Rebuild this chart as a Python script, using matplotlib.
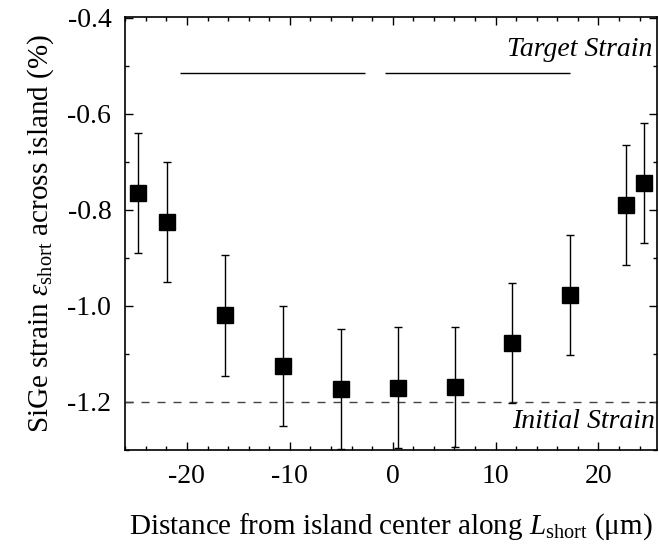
import matplotlib
matplotlib.use("Agg")
import matplotlib.pyplot as plt
from matplotlib.ticker import MultipleLocator

# Measured strain across the island
distance_um = [-24.8, -21.9, -16.3, -10.7, -5.0, 0.5, 6.1, 11.6, 17.2, 22.7, 24.4]
strain_pct = [-0.765, -0.825, -1.020, -1.125, -1.173, -1.170, -1.169, -1.077, -0.977, -0.790, -0.744]
strain_err = [0.125, 0.125, 0.125, 0.125, 0.125, 0.125, 0.125, 0.125, 0.125, 0.125, 0.125]

target_strain = -0.515
initial_strain = -1.2

x_ticks = [-20, -10, 0, 10, 20]
y_ticks = [-1.2, -1.0, -0.8, -0.6, -0.4]

plt.rcParams["font.family"] = ["Liberation Serif", "DejaVu Serif"]
plt.rcParams["mathtext.fontset"] = "custom"
plt.rcParams["mathtext.rm"] = "Liberation Serif"
plt.rcParams["mathtext.it"] = "Liberation Serif:italic"
plt.rcParams["axes.unicode_minus"] = False

dpi = 100
fig = plt.figure(figsize=(6.59, 5.46), dpi=dpi)
ax = fig.add_axes([0.190, 0.176, 0.807, 0.793])

px = 72.0 / dpi  # one pixel in points

# Reference lines
ax.axhline(target_strain, color="black", lw=1.0,
           linestyle=(477 * px, (185 * px, 20 * px, 185 * px, 142 * px)))
ax.axhline(initial_strain, color="#444444", lw=1.0,
           linestyle=(0, (8 * px, 8 * px)))

ax.errorbar(distance_um, strain_pct, yerr=strain_err, fmt="s", color="black",
            ms=11, ecolor="black", elinewidth=1.0, capsize=3, capthick=1.0,
            zorder=3)

ax.text(0.992, 0.910, "Target Strain", transform=ax.transAxes, ha="right",
        va="baseline", fontsize=20, style="italic")
ax.text(0.996, 0.051, "Initial Strain", transform=ax.transAxes, ha="right",
        va="baseline", fontsize=20, style="italic")

ax.set_xlim(-26.0, 25.7)
ax.set_ylim(-1.3, -0.398)
ax.set_xticks(x_ticks)
ax.set_yticks(y_ticks)
ax.set_xticklabels([f"{v:d}" for v in x_ticks])
ax.set_yticklabels([f"{v:.1f}" for v in y_ticks])
ax.xaxis.set_minor_locator(MultipleLocator(2))
ax.yaxis.set_minor_locator(MultipleLocator(0.1))
ax.tick_params(which="both", direction="in", top=True, right=True,
               labelsize=20, width=1.0)
ax.tick_params(which="major", length=6, pad=10)
ax.tick_params(which="minor", length=3)
for s in ax.spines.values():
    s.set_linewidth(1.2)

ax.set_xlabel(r"Distance from island center along $L_{\rm short}$ (μm)",
              fontsize=21, labelpad=16)
ax.set_ylabel(r"SiGe strain $\varepsilon_{\rm short}$ across island (%)",
              fontsize=21, labelpad=8)

fig.savefig("out.png", dpi=dpi)
